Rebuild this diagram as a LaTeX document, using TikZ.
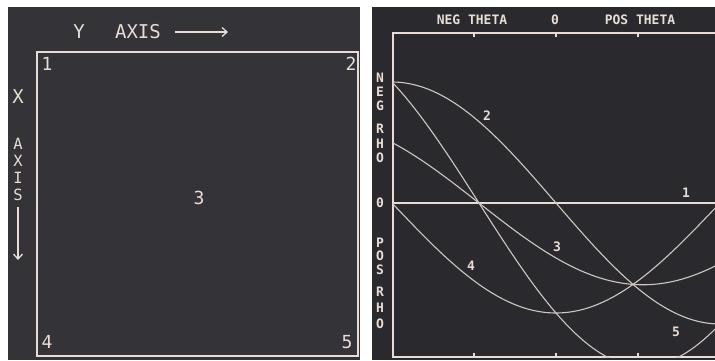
\documentclass[tikz,border=0pt]{standalone}
\usepackage{fontspec}
\setmonofont{DejaVu Sans Mono}
\usetikzlibrary{arrows.meta}
\definecolor{panelL}{HTML}{343338}
\definecolor{panelR}{HTML}{2A292E}
\definecolor{ink}{HTML}{E8DCD4}
\begin{document}
\begin{tikzpicture}[x=1pt,y=-1pt,
  big/.style={text=ink, font=\fontsize{19}{19}\selectfont\ttfamily, inner sep=0pt},
  stack/.style={text=ink, font=\fontsize{15.5}{15.5}\selectfont\ttfamily, inner sep=0pt},
  num/.style={text=ink, font=\fontsize{18}{18}\selectfont\ttfamily, inner sep=0pt},
  small/.style={text=ink, font=\fontsize{13}{13}\selectfont\ttfamily\bfseries, inner sep=0pt},
  frame/.style={draw=ink, line width=1.6pt},
  curve/.style={draw=ink!88!panelR, line width=1.1pt},
  axarrow/.style={draw=ink, line width=1.3pt, -{Straight Barb[length=5pt,width=9pt]}}]
\useasboundingbox (0,0) rectangle (715,360);
\fill[white] (0,0) rectangle (715,360);
\fill[panelL] (8,7) rectangle (360,360);
\fill[panelR] (372,7) rectangle (715,360);

% ---------- left panel ----------
\draw[frame] (37,52) rectangle (358,356);
\node[big] (ylab) at (79,32) {Y};
\node[big] (yaxis) at (138,32) {AXIS};
\coordinate (ya1) at (175,32);
\coordinate (ya2) at (228,32);
\draw[axarrow] (ya1) -- (ya2);
\node[big] (xlab) at (18,97) {X};
\node[stack] (xa1) at (18,144) {A};
\node[stack] (xa2) at (18,161) {X};
\node[stack] (xa3) at (18,178) {I};
\node[stack] (xa4) at (18,195) {S};
\coordinate (xr1) at (18,207);
\coordinate (xr2) at (18,260);
\draw[axarrow] (xr1) -- (xr2);
\node[num] (p1) at (47,64) {1};
\node[num] (p2) at (351,64) {2};
\node[num] (p3) at (199,198) {3};
\node[num] (p4) at (47,342) {4};
\node[num] (p5) at (347,342) {5};

% ---------- right panel ----------
\draw[frame] (715,33) -- (393,33) -- (393,357) -- (715,357);
\foreach \t in {474,556,638}{
  \draw[draw=ink, line width=1.2pt] (\t,33) -- (\t,37);
  \draw[draw=ink, line width=1.2pt] (\t,357) -- (\t,353);
}
\node[small] (negth) at (472,20) {NEG THETA};
\node[small] (zth) at (555,20) {0};
\node[small] (posth) at (640,20) {POS THETA};
\node[small] (r1) at (380,78) {N};
\node[small] (r2) at (380,92) {E};
\node[small] (r3) at (380,106) {G};
\node[small] (r4) at (380,129) {R};
\node[small] (r5) at (380,143.5) {H};
\node[small] (r6) at (380,158) {O};
\node[small] (r0) at (380,203) {0};
\node[small] (r7) at (380,243) {P};
\node[small] (r8) at (380,256) {O};
\node[small] (r9) at (380,269.5) {S};
\node[small] (r10) at (380,292) {R};
\node[small] (r11) at (380,308) {H};
\node[small] (r12) at (380,324) {O};

\begin{scope}
\clip (393,33) rectangle (715,357);
\draw[draw=ink, line width=1.5pt] (393,203) -- (715,203);
\draw[curve] plot[domain=-90:90, samples=120] ({556+\x*164/90}, {203+121*sin(\x)});
\draw[curve] plot[domain=-90:90, samples=120] ({556+\x*164/90}, {203+110*cos(\x)});
\draw[curve] plot[domain=-90:90, samples=120] ({556+\x*164/90}, {203+(110*cos(\x)+121*sin(\x))/2});
\draw[curve] plot[domain=-90:90, samples=120] ({556+\x*164/90}, {203+110*cos(\x)+121*sin(\x)});
\end{scope}

\node[small] (c2) at (487,116) {2};
\node[small] (c1) at (686,193) {1};
\node[small] (c3) at (557,247) {3};
\node[small] (c4) at (471,266) {4};
\node[small] (c5) at (676,332) {5};
\end{tikzpicture}
\end{document}
